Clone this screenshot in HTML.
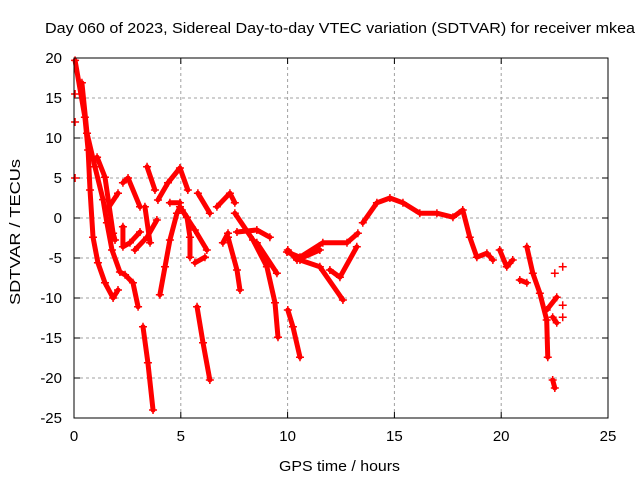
<!DOCTYPE html>
<html><head><meta charset="utf-8"><style>
body{margin:0;background:#fff}
svg text{font-family:"Liberation Sans",sans-serif;font-size:15px;fill:#000}
</style></head><body>
<svg id="chart" width="640" height="480" viewBox="0 0 640 480" xmlns="http://www.w3.org/2000/svg">
<rect width="640" height="480" fill="#fff"/>
<text x="45" y="33" textLength="590" lengthAdjust="spacingAndGlyphs">Day 060 of 2023, Sidereal Day-to-day VTEC variation (SDTVAR) for receiver mkea</text>
<text x="279" y="471" textLength="121" lengthAdjust="spacingAndGlyphs">GPS time / hours</text>
<text transform="translate(20,305) rotate(-90)" textLength="146" lengthAdjust="spacingAndGlyphs">SDTVAR / TECUs</text>
<g id="grid"></g>
<g id="ticks"></g>
<g id="series"></g>
<rect x="74" y="58" width="534" height="360" fill="none" stroke="#000" stroke-width="1"/>
</svg>
<script>
const xTicks=[0,5,10,15,20,25];
const yTicks=[20,15,10,5,0,-5,-10,-15,-20,-25];
const tracks=[
[[0.05,19.7],[0.51,12.6],[0.66,8.5],[0.75,3.5],[0.89,-2.4],[1.12,-5.6],[1.45,-8.1],[1.83,-10],[2.06,-9]],
[[0.37,16.9],[0.61,10.6],[0.98,6.4],[1.36,2.3],[1.54,-0.6],[1.78,-4],[2.15,-6.75],[2.39,-7.1],[2.76,-8.1],[3.0,-11.1]],
[[1.08,7.6],[1.45,5.1],[1.83,-1.9],[1.92,-2.75]],
[[1.54,1],[2.06,3.1]],
[[2.29,4.4],[2.53,5],[3.09,1.4]],
[[3.42,6.4],[3.79,3.5]],
[[2.29,-1.1],[2.29,-3.6],[2.62,-3.1],[3.09,-1.75]],
[[2.85,-4],[3.42,-2.4],[3.88,-0.25]],
[[3.32,1.4],[3.56,-3.1]],
[[3.23,-13.6],[3.46,-18.1],[3.7,-24]],
[[3.93,2.25],[4.4,4.4],[4.96,6.25],[5.33,3.5]],
[[4.02,-9.6],[4.26,-6.1],[4.49,-2.75],[4.82,0.6],[4.96,1.4],[5.29,0.1],[5.43,-2.4],[5.43,-4.9]],
[[4.49,1.9],[4.96,1.9]],
[[5.76,-11.1],[6.04,-15.6],[6.36,-20.25]],
[[5.05,1],[5.66,-1.5],[6.22,-4]],
[[5.8,3.1],[6.36,0.6]],
[[5.66,-5.6],[6.13,-4.9]],
[[6.69,1.4],[7.3,3.1],[7.53,1.9]],
[[6.97,-3.1],[7.21,-1.9]],
[[7.21,-2.4],[7.63,-6.5],[7.77,-9]],
[[7.53,0.6],[8.38,-2.75],[9.03,-6.1],[9.41,-10.6],[9.55,-14.9]],
[[7.63,-1.75],[8.56,-1.5],[9.17,-2.4]],
[[8.56,-3.1],[9.5,-6.9]],
[[10.01,-4],[10.44,-5.25],[11.51,-4]],
[[10.01,-11.5],[10.25,-13.6],[10.58,-17.4]],
[[9.97,-4.25],[10.58,-4.9],[11.65,-3.1],[12.78,-3.1],[13.29,-1.9]],
[[10.58,-5.25],[11.51,-6.1],[12.59,-10.25]],
[[11.98,-6.5],[12.45,-7.4],[13.24,-3.6]],
[[13.52,-0.6],[14.18,1.9],[14.79,2.5],[15.4,1.9],[16.19,0.6],[16.99,0.6],[17.74,0.1],[18.2,1],[18.53,-2.4],[18.86,-4.9],[19.33,-4.4],[19.61,-5.25]],
[[19.93,-4],[20.26,-6.1],[20.54,-5.25]],
[[21.2,-3.6],[21.48,-6.9],[21.81,-9.4],[22.13,-12.75],[22.18,-17.4]],
[[20.87,-7.75],[21.2,-8.1]],
[[22.13,-11.5],[22.6,-9.9]],
[[22.41,-12.4],[22.6,-13.1]],
[[22.41,-20.25],[22.51,-21.25]],
[[22.88,-6.1]],[[22.51,-6.9]],[[22.88,-10.9]],[[22.88,-12.4]],
[[0.05,15.5]],[[0.05,12]],[[0.05,5]]
];
const NS="http://www.w3.org/2000/svg";
const X0=74,X1=608,Y0=418,Y1=58;
const xs=v=>X0+(v-0)/(25-0)*(X1-X0);
const ys=v=>Y0-(v+25)/(45)*(Y0-Y1);
function mk(t,a,p){const e=document.createElementNS(NS,t);for(const k in a)e.setAttribute(k,a[k]);p.appendChild(e);return e;}
const grid=document.getElementById('grid'),ticks=document.getElementById('ticks'),ser=document.getElementById('series');
xTicks.forEach(t=>{const x=xs(t);
 if(t>0&&t<25){const g=mk('line',{x1:x,x2:x,y1:Y0,y2:Y1,stroke:'#a0a0a0','stroke-dasharray':'3,3'},grid);}
 mk('line',{x1:x,x2:x,y1:Y0,y2:Y0-6,stroke:'#000'},ticks);mk('line',{x1:x,x2:x,y1:Y1,y2:Y1+6,stroke:'#000'},ticks);
 const l=mk('text',{x:x,y:Y0+23,'text-anchor':'middle'},ticks);l.textContent=t;
 
 
});
yTicks.forEach(t=>{const y=ys(t);
 if(t>-25&&t<20){const g=mk('line',{x1:X0,x2:X1,y1:y,y2:y,stroke:'#a0a0a0','stroke-dasharray':'3,3'},grid);}
 mk('line',{x1:X0,x2:X0+6,y1:y,y2:y,stroke:'#000'},ticks);mk('line',{x1:X1,x2:X1-6,y1:y,y2:y,stroke:'#000'},ticks);
 const l=mk('text',{x:X0-12,y:y+5,'text-anchor':'end'},ticks);l.textContent=t;
 
 
});
tracks.forEach(tr=>{
 if(tr.length>1){const pl=mk('polyline',{points:tr.map(p=>xs(p[0])+','+ys(p[1])).join(' '),fill:'none',stroke:'#f00','stroke-width':5,'stroke-linejoin':'round','stroke-linecap':'round'},ser);
  
  }
 tr.forEach(p=>{const x=xs(p[0]),y=ys(p[1]);
  const m=mk('path',{d:`M${x-4},${y}H${x+4}M${x},${y-4}V${y+4}`,stroke:'#f00','stroke-width':1.5},ser);
  
  });
});
</script>
</body></html>
